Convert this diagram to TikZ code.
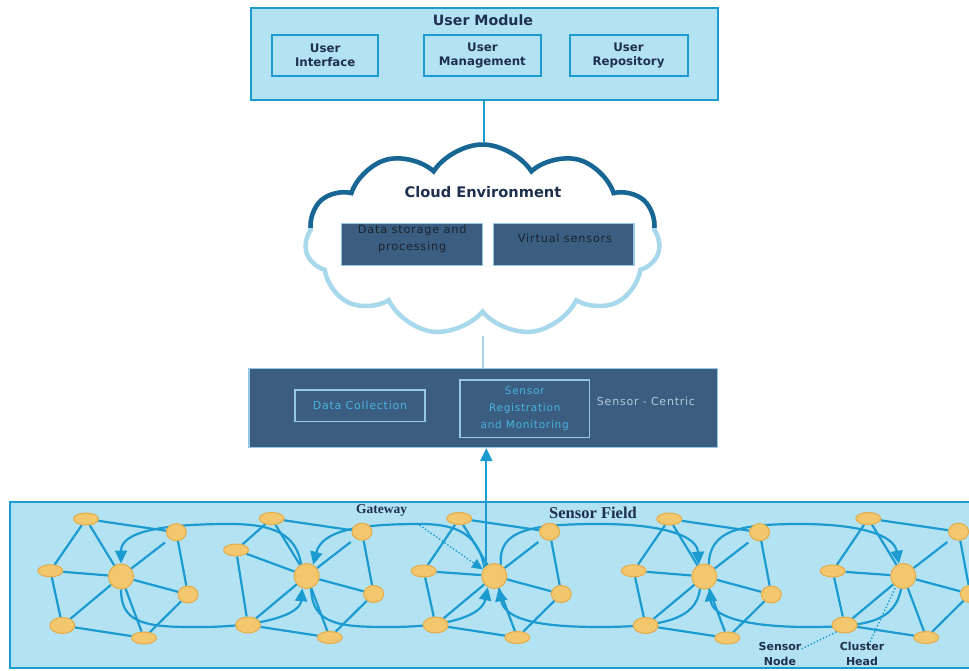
\documentclass[tikz,border=0pt]{standalone}
\usepackage{fontspec}
\setmainfont{DejaVu Sans}
\newfontfamily\widesans[LetterSpace=7]{DejaVu Sans}
\newfontfamily\serifb{Liberation Serif}
\usetikzlibrary{shapes.symbols,shapes.geometric,arrows.meta}
\pgfdeclarelayer{bg}
\pgfsetlayers{bg,main}
\definecolor{fieldfill}{RGB}{179,227,243}
\definecolor{lineblue}{RGB}{27,155,208}
\definecolor{nodefill}{RGB}{243,199,110}
\definecolor{nodeedge}{RGB}{228,172,72}
\definecolor{navy}{RGB}{30,48,78}
\definecolor{slate}{RGB}{59,94,128}
\definecolor{cyantext}{RGB}{72,178,224}
\definecolor{paleedge}{RGB}{150,200,225}
\definecolor{clouddark}{RGB}{24,102,148}
\definecolor{cloudlight}{RGB}{168,216,236}
\definecolor{centrictext}{RGB}{180,200,218}
\definecolor{cloudtext}{RGB}{25,35,50}
\tikzset{
  umbox/.style={draw=lineblue, line width=2pt, fill=fieldfill},
  ubox/.style={draw=lineblue, line width=2pt, fill=fieldfill, font=\bfseries\fontsize{11.8}{14.5}\selectfont, text=navy, align=center},
  darkbox/.style={draw=paleedge, line width=1.5pt, fill=slate},
  innerdark/.style={draw=paleedge, line width=1.5pt},
  head/.style={circle, fill=nodefill, draw=nodeedge, line width=1pt, minimum size=25pt, inner sep=0pt},
  sen/.style={ellipse, fill=nodefill, draw=nodeedge, line width=1pt, minimum width=25pt, minimum height=12pt, inner sep=0pt},
  senr/.style={ellipse, fill=nodefill, draw=nodeedge, line width=1pt, minimum width=20pt, minimum height=17pt, inner sep=0pt},
  senbl/.style={ellipse, fill=nodefill, draw=nodeedge, line width=1pt, minimum width=25pt, minimum height=16pt, inner sep=0pt},
  edge/.style={draw=lineblue, line width=2.2pt},
  arc/.style={draw=lineblue, line width=2.2pt, -{Triangle[length=13pt,width=12pt]}},
  dotl/.style={draw=lineblue, line width=1.4pt, dotted},
  lab/.style={font=\bfseries\fontsize{11}{15.5}\selectfont, text=navy, align=center, inner sep=0pt},
}
\begin{document}
\begin{tikzpicture}[x=1pt,y=-1pt]
\useasboundingbox (0,0) rectangle (969,671);

% ---------- User module ----------
\node[umbox, minimum width=467pt, minimum height=92pt] (um) at (484,54) {};
\node[font=\bfseries\fontsize{14.2}{16}\selectfont, text=navy] (umt) at (483,20) {User Module};
\node[ubox, minimum width=106pt, minimum height=40.5pt] (ui) at (325.2,55.4) {User\\Interface};
\node[ubox, minimum width=117pt, minimum height=40.5pt] (umg) at (482.4,55.4) {User\\Management};
\node[ubox, minimum width=118pt, minimum height=40.5pt] (ur) at (628.5,55.4) {User\\Repository};

% ---------- Cloud ----------
\node[cloud, cloud puffs=11, cloud puff arc=115, aspect=1.85, minimum width=355pt, minimum height=191pt,
      fill=white, draw=cloudlight, line width=4.5pt] (cloud) at (482.5,240) {};
\begin{scope}
\clip (0,0) rectangle (969,228);
\node[cloud, cloud puffs=11, cloud puff arc=115, aspect=1.85, minimum width=355pt, minimum height=191pt,
      draw=clouddark, line width=4.5pt] (cloudtop) at (482.5,240) {};
\end{scope}
\coordinate (cloudbot) at (483,336);
\node[font=\bfseries\fontsize{14.6}{16}\selectfont, text=navy] (ct) at (483,192) {Cloud Environment};
\node[darkbox, minimum width=141pt, minimum height=42pt] (ds) at (412.2,244.5) {};
\node[darkbox, minimum width=140.5pt, minimum height=42pt] (vs) at (563.7,244.5) {};
\node[font=\widesans\fontsize{11.3}{17}\selectfont, text=cloudtext, align=center] (dst) at (412.2,238.5) {Data storage and\\processing};
\node[font=\widesans\fontsize{11.3}{13}\selectfont, text=cloudtext] (vst) at (565,238) {Virtual sensors};

% ---------- Sensor-centric ----------
\node[darkbox, minimum width=468.5pt, minimum height=79pt] (sc) at (483.3,407.8) {};
\node[innerdark, minimum width=130pt, minimum height=31.5pt, text=cyantext, font=\widesans\fontsize{11}{12}\selectfont] (dc) at (360,405.8) {Data Collection};
\node[innerdark, minimum width=129.3pt, minimum height=57.3pt, text=cyantext, align=center, font=\widesans\fontsize{10.5}{17}\selectfont] (srm) at (524.7,408.7) {Sensor\\Registration\\and Monitoring};
\node[text=centrictext, font=\widesans\fontsize{11}{12}\selectfont] (sct) at (646,401.7) {Sensor - Centric};

% ---------- connectors between layers ----------
\draw[lineblue, line width=1.5pt] (um.south) -- (um.south |- cloud.north);
\draw[cloudlight, line width=1.5pt] (sc.north -| cloudbot) -- (cloudbot);

% ---------- Sensor field ----------
\foreach \n/\hx/\hy/\ly in {1/121/576.5/-5.7, 2/306.7/576/-26, 3/494.3/576/-5, 4/704.3/576.5/-5.7, 5/903.3/576/-5}{
  \node[head] (H\n) at (\hx,\hy) {};
  \node[sen]   (T\n)  at ({\hx-35},{\hy-57.5}) {};
  \node[senr]  (TR\n) at ({\hx+55.3},{\hy-44.3}) {};
  \node[sen]   (L\n)  at ({\hx-70.6},{\hy+\ly}) {};
  \node[senr]  (R\n)  at ({\hx+67},{\hy+18}) {};
  \node[senbl] (BL\n) at ({\hx-58.7},{\hy+49}) {};
  \node[sen]   (B\n)  at ({\hx+23},{\hy+61.5}) {};
  \coordinate (S\n) at ({\hx+44},{\hy-34});
}

\begin{pgfonlayer}{bg}
\node[draw=lineblue, line width=2pt, fill=fieldfill, minimum width=972pt, minimum height=166pt] (field) at (496,585) {};
\foreach \n in {1,...,5}{
  \draw[edge] (T\n)--(L\n) (T\n)--(H\n) (T\n)--(TR\n) (L\n)--(H\n) (L\n)--(BL\n)
              (BL\n)--(H\n) (BL\n)--(B\n) (B\n)--(H\n) (B\n)--(R\n) (R\n)--(H\n)
              (TR\n)--(R\n) (H\n)--(S\n);
}
% arcs between cluster heads
\draw[arc] (H2.115) .. controls (296,535) and (275,524) .. (230,524) .. controls (160,524) and (121,532) .. (H1.north);
\draw[arc] (H1.south) .. controls (121,620) and (140,627) .. (190,627) .. controls (260,628) and (300,615) .. (H2.250);
\draw[arc] (H3.140) .. controls (478,530) and (450,524) .. (420,524) .. controls (360,524) and (322,530) .. (H2.60);
\draw[arc] (H2.290) .. controls (312,625) and (340,627) .. (390,627) .. controls (450,627) and (482,615) .. (H3.240);
\draw[arc] (H3.60) .. controls (498,530) and (530,524) .. (600,524) .. controls (660,524) and (697,535) .. (H4.115);
\draw[arc] (H4.250) .. controls (697,620) and (660,627) .. (600,627) .. controls (540,627) and (505,620) .. (H3.290);
\draw[arc] (H4.70) .. controls (710,530) and (740,524) .. (800,524) .. controls (860,524) and (894,535) .. (H5.110);
\draw[arc] (H5.260) .. controls (895,620) and (870,627) .. (810,627) .. controls (740,627) and (712,615) .. (H4.295);
% gateway uplink
\draw[arc] (H3.128) -- (H3.128 |- sc.south);
\end{pgfonlayer}

% ---------- labels ----------
\node[font=\serifb\bfseries\fontsize{13.5}{14}\selectfont, text=navy] (gwl) at (381.7,510.7) {Gateway};
\node[font=\serifb\bfseries\fontsize{16.5}{17}\selectfont, text=navy] (sfl) at (593,512.7) {Sensor Field};
\draw[dotl, -{Triangle[length=11pt,width=10pt]}] ([xshift=6pt,yshift=-3pt]gwl.south east) -- (H3.150);
\node[lab] (snl) at (780,654) {Sensor\\Node};
\node[lab] (chl) at (862,654) {Cluster\\Head};
\draw[dotl] ([yshift=-7pt]snl.north east) -- (BL5.220);
\draw[dotl] ([xshift=8pt]chl.north) -- (H5.235);
\end{tikzpicture}
\end{document}
